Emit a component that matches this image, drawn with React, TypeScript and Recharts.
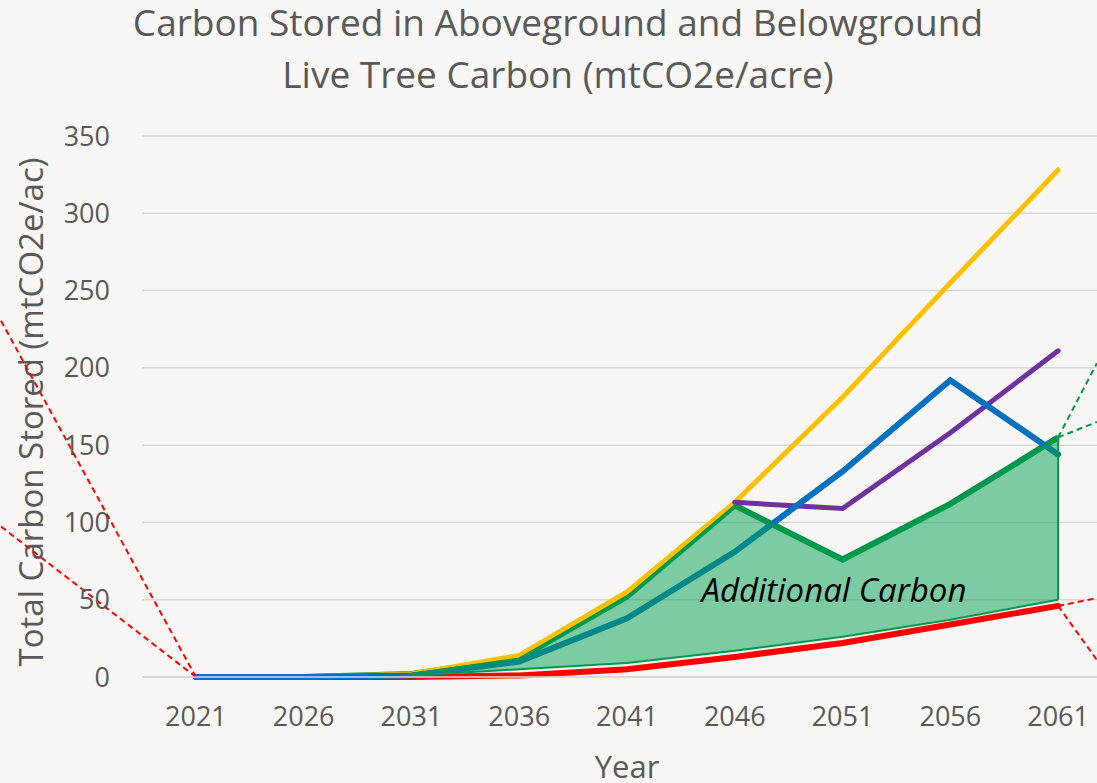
import React from "react";
import {
  ComposedChart,
  Line,
  Area,
  XAxis,
  YAxis,
  CartesianGrid,
  ReferenceLine,
  ReferenceDot,
  Label,
} from "recharts";

const years = [2021, 2026, 2031, 2036, 2041, 2046, 2051, 2056, 2061];
const yellowSeries = [0, 0, 2, 14, 55, 113, 181, 255, 328];
const purpleSeries = [null, null, null, null, null, 113, 109, 158, 211];
const blueSeries = [0, 0, 1, 10, 38, 81, 133, 192, 144];
const greenSeries = [0, 0, 2, 12, 52, 111, 76, 112, 155];
const redSeries = [0, 0, 0, 1, 5, 13, 22, 34, 46];
const additionalLow = [null, null, 1, 5, 9, 17, 26, 37, 50];
const additionalHigh = [null, null, 2, 12, 52, 111, 76, 112, 155];

const yTicks = [0, 50, 100, 150, 200, 250, 300, 350];

// callout leader lines (data units), they run off the cropped picture
const leaders = [
  { x1: 2021, y1: 0, x2: 2011.9, y2: 232, color: "#ff0000", dash: "6 4" },
  { x1: 2021, y1: 0, x2: 2011.9, y2: 98, color: "#ff0000", dash: "6 4" },
  { x1: 2061, y1: 46, x2: 2062.8, y2: 51, color: "#ff0000", dash: "6 4" },
  { x1: 2061, y1: 46, x2: 2062.8, y2: 11, color: "#ff0000", dash: "6 4" },
  { x1: 2061, y1: 155, x2: 2062.8, y2: 203, color: "#00994c", dash: "6 4" },
  { x1: 2061, y1: 155, x2: 2062.8, y2: 165, color: "#00994c", dash: "6 4" },
  { x1: 2061, y1: 50, x2: 2061, y2: 155, color: "#00994c", dash: "" },
];

const data = years.map((year, i) => ({
  year,
  yellow: yellowSeries[i],
  purple: purpleSeries[i],
  blue: blueSeries[i],
  green: greenSeries[i],
  red: redSeries[i],
  additional:
    additionalLow[i] === null ? null : [additionalLow[i], additionalHigh[i]],
}));

const font = "'Open Sans', sans-serif";
const textGray = "#595959";

export default function App() {
  const titleLine = {
    position: "absolute" as const,
    left: 0,
    width: 1116,
    textAlign: "center" as const,
    fontSize: 37,
    lineHeight: "44px",
    color: textGray,
    whiteSpace: "nowrap" as const,
  };
  return (
    <div
      style={{
        position: "absolute",
        left: 0,
        top: 0,
        width: 1097,
        height: 783,
        overflow: "hidden",
        background: "#f8f7f5",
        fontFamily: font,
      }}
    >
      <div style={{ ...titleLine, top: 0 }}>
        Carbon Stored in Aboveground and Belowground
      </div>
      <div style={{ ...titleLine, top: 52 }}>Live Tree Carbon (mtCO2e/acre)</div>
      <div
        style={{
          position: "absolute",
          left: 30,
          top: 412,
          transform: "translate(-50%, -50%) rotate(-90deg)",
          whiteSpace: "nowrap",
          fontSize: 33,
          color: textGray,
        }}
      >
        Total Carbon Stored (mtCO2e/ac)
      </div>
      <ComposedChart
        width={1140}
        height={783}
        data={data}
        margin={{ top: 136, right: 28, left: 20, bottom: 0 }}
        style={{ position: "absolute", left: 0, top: 0 }}
      >
        <CartesianGrid vertical={false} stroke="#d9d9d9" strokeWidth={1.5} />
        <XAxis
          dataKey="year"
          type="number"
          domain={[2018.5, 2063.5]}
          ticks={years}
          height={106}
          axisLine={{ stroke: "#d9d9d9", strokeWidth: 1.5 }}
          tickLine={false}
          tickSize={0}
          tickMargin={30}
          tick={{ fill: textGray, fontSize: 27, fontFamily: font }}
        >
          <Label
            value="Year"
            position="insideBottom"
            offset={5}
            fill={textGray}
            fontSize={31}
            fontFamily={font}
          />
        </XAxis>
        <YAxis
          domain={[0, 350]}
          ticks={yTicks}
          width={122}
          axisLine={false}
          tickLine={false}
          tickSize={0}
          tickMargin={32}
          tick={{ fill: textGray, fontSize: 27, fontFamily: font }}
        />
        <Line
          dataKey="red"
          stroke="#ff0000"
          strokeWidth={6}
          dot={false}
          strokeLinecap="round"
          isAnimationActive={false}
        />
        <Line
          dataKey="green"
          stroke="#00934c"
          strokeWidth={6}
          dot={false}
          isAnimationActive={false}
        />
        <Line
          dataKey="yellow"
          stroke="#ffc000"
          strokeWidth={5}
          dot={false}
          strokeLinecap="round"
          isAnimationActive={false}
        />
        <Line
          dataKey="purple"
          stroke="#7030a0"
          strokeWidth={5}
          dot={false}
          strokeLinecap="round"
          isAnimationActive={false}
        />
        <Line
          dataKey="blue"
          stroke="#0070c0"
          strokeWidth={6}
          dot={false}
          strokeLinecap="round"
          isAnimationActive={false}
        />
        <Area
          dataKey="additional"
          stroke="#00994c"
          strokeWidth={2}
          fill="#00a050"
          fillOpacity={0.5}
          isAnimationActive={false}
          zIndex={450}
        />
        {leaders.map((l, i) => (
          <ReferenceLine
            key={i}
            segment={[
              { x: l.x1, y: l.y1 },
              { x: l.x2, y: l.y2 },
            ]}
            stroke={l.color}
            strokeWidth={2}
            strokeDasharray={l.dash}
            ifOverflow="visible"
          />
        ))}
        <ReferenceDot x={2050.6} y={56} r={0} fillOpacity={0} strokeOpacity={0}>
          <Label
            value="Additional Carbon"
            position="center"
            fill="#000000"
            fontSize={33}
            fontStyle="italic"
            fontFamily={font}
          />
        </ReferenceDot>
      </ComposedChart>
    </div>
  );
}
